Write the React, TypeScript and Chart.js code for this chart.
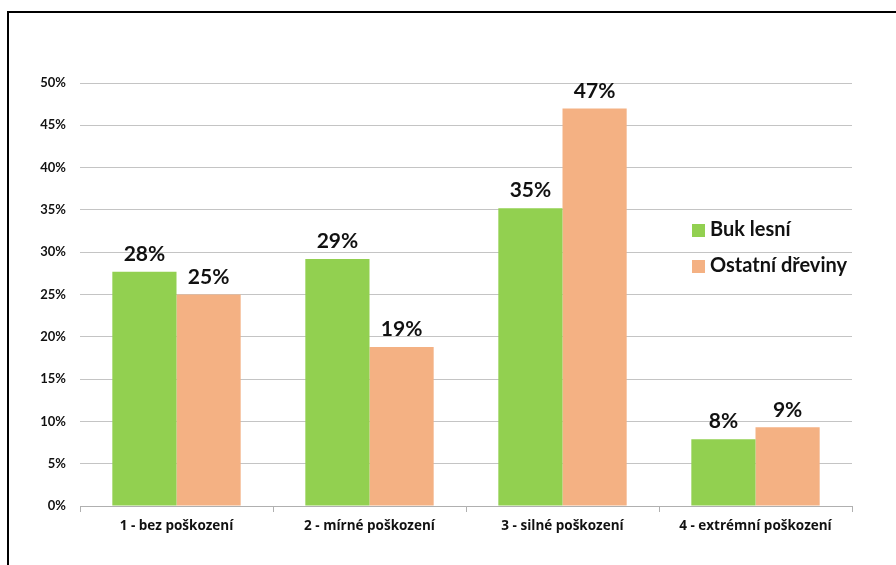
import React, { useEffect, useRef } from "react";
import { Chart, registerables } from "chart.js";

Chart.register(...registerables);

const categories = ["1 - bez poškození", "2 - mírné poškození", "3 - silné poškození", "4 - extrémní poškození"];
const seriesNames = ["Buk lesní", "Ostatní dřeviny"];
const bukValues = [27.7, 29.2, 35.2, 7.9];
const ostatniValues = [25.0, 18.8, 47.0, 9.3];
const bukLabels = ["28%", "29%", "35%", "8%"];
const ostatniLabels = ["25%", "19%", "47%", "9%"];
const colors = ["#92D050", "#F4B183"];

const FONT = "Lato, 'Open Sans', sans-serif";
const XFONT = "'Open Sans', Lato, sans-serif";

const labelPlugin = {
  id: "valueLabels",
  afterDatasetsDraw(chart: any) {
    const ctx = chart.ctx;
    ctx.save();
    ctx.font = `bold 21px ${FONT}`;
    ctx.fillStyle = "#111";
    ctx.textAlign = "center";
    ctx.textBaseline = "bottom";
    const labelSets = [bukLabels, ostatniLabels];
    chart.data.datasets.forEach((_: any, di: number) => {
      const meta = chart.getDatasetMeta(di);
      meta.data.forEach((bar: any, i: number) => {
        ctx.fillText(labelSets[di][i], bar.x, bar.y - 7);
      });
    });
    ctx.restore();
  },
};

const legendPlugin = {
  id: "customLegend",
  afterDraw(chart: any) {
    const ctx = chart.ctx;
    ctx.save();
    ctx.font = `bold 20px ${FONT}`;
    ctx.textBaseline = "middle";
    ctx.textAlign = "left";
    const x0 = chart.chartArea.right - 160;
    const ys = [chart.chartArea.top + 147, chart.chartArea.top + 183];
    seriesNames.forEach((name, i) => {
      ctx.fillStyle = colors[i];
      ctx.fillRect(x0, ys[i] - 6, 13, 13);
      ctx.fillStyle = "#111";
      ctx.fillText(name, x0 + 18, ys[i]);
    });
    ctx.restore();
  },
};

export default function App() {
  const ref = useRef<HTMLCanvasElement>(null);
  useEffect(() => {
    document.body.style.margin = "0";
    const chart = new Chart(ref.current!, {
      type: "bar",
      data: {
        labels: categories,
        datasets: [
          { label: seriesNames[0], data: bukValues, backgroundColor: colors[0], barPercentage: 1, categoryPercentage: 0.665 },
          { label: seriesNames[1], data: ostatniValues, backgroundColor: colors[1], barPercentage: 1, categoryPercentage: 0.665 },
        ],
      },
      options: {
        animation: false,
        responsive: false,
        layout: { padding: { top: 83, right: 44, left: 0, bottom: 0 } },
        plugins: { legend: { display: false }, tooltip: { enabled: false } },
        scales: {
          x: {
            grid: { drawOnChartArea: false, drawTicks: true, tickLength: 6, color: "#b0b0b0", offset: true },
            border: { display: true, color: "#b0b0b0", width: 1 },
            ticks: { color: "#111", font: { family: XFONT, size: 13.5, weight: "bold" }, padding: 6 },
            afterFit: (s: any) => { s.height = 59; },
          },
          y: {
            min: 0,
            max: 50,
            ticks: { stepSize: 5, callback: (v: any) => v + "%", color: "#111", font: { family: FONT, size: 13, weight: "bold" }, padding: 14 },
            grid: { color: "#c4c4c4", drawTicks: false, lineWidth: 1 },
            border: { display: false },
            afterFit: (s: any) => { s.width = 80; },
          },
        },
      },
      plugins: [labelPlugin, legendPlugin],
    });
    return () => chart.destroy();
  }, []);
  return (
    <div style={{ position: "relative", width: 896, height: 565, overflow: "hidden", background: "#fff" }}>
      <div style={{ position: "absolute", left: 7, top: 11, width: 960, height: 620, border: "2px solid #000", boxSizing: "border-box" }} />
      <canvas ref={ref} width={896} height={565} style={{ position: "absolute", left: 0, top: 0 }} />
    </div>
  );
}
